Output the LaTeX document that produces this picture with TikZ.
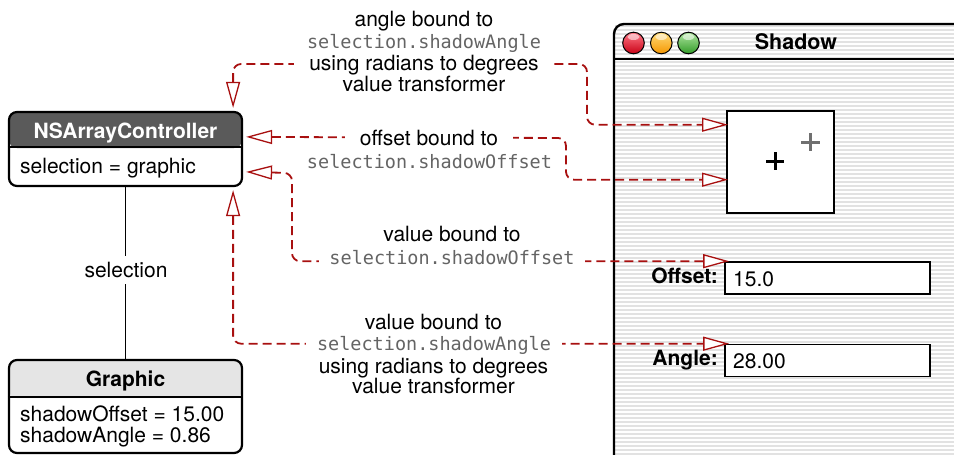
\documentclass[tikz,border=0pt]{standalone}
\usepackage{fontspec}
\setmainfont{TeX Gyre Heros}
\newfontfamily\monof{DejaVu Sans Mono}
\usetikzlibrary{arrows.meta,calc}
\definecolor{conred}{RGB}{168,16,16}
\definecolor{hdrdark}{RGB}{90,90,90}
\definecolor{hdrlight}{RGB}{229,229,229}
\definecolor{stripe}{RGB}{226,226,226}
\definecolor{monogray}{RGB}{100,100,100}
\definecolor{plusgray}{RGB}{112,112,112}
\begin{document}
\begin{tikzpicture}[x=1pt,y=-1pt,
  txt/.style={font=\fontsize{21}{21.3}\selectfont, inner sep=0pt, anchor=base},
  bold/.style={txt, font=\fontsize{21}{21.3}\selectfont\bfseries},
  mono/.style={anchor=base, inner sep=0pt, font=\fontsize{18.5}{20}\selectfont\monof, text=monogray},
  knock/.style={fill=white, inner xsep=13pt, inner ysep=1pt},
  umlbox/.style={draw, line width=2.2pt, rounded corners=8pt, minimum width=233pt, inner sep=0pt, fill=white},
  field/.style={draw, line width=1.6pt, fill=white, minimum width=205pt, minimum height=32pt, inner sep=0pt},
  conn/.style={draw=conred, line width=1.8pt, dash pattern=on 9pt off 5pt, rounded corners=8pt,
    {Triangle[length=26pt,width=14pt,fill=white,line width=1.3pt]}-{Triangle[length=26pt,width=14pt,fill=white,line width=1.3pt]}},
  light/.style={draw=black, line width=1pt}
]
\useasboundingbox (0,0) rectangle (954,455);

% ---------- window ----------
\begin{scope}
  \clip (614,24) rectangle (954,455);
  \foreach \yy in {25,29,...,453} \fill[stripe] (615,\yy) rectangle (954,\yy+2);
\end{scope}
\draw[line width=2.4pt, rounded corners=10pt] (614,458) -- (614,24) -- (958,24);
\draw[line width=2pt] (614,59) -- (958,59);
\shade[light, top color={rgb,255:red,255;green,120;blue,135}, bottom color={rgb,255:red,200;green,0;blue,20}] (633.5,43) circle[radius=10.8];
\shade[light, top color={rgb,255:red,255;green,220;blue,120}, bottom color={rgb,255:red,245;green,150;blue,0}] (661.3,43) circle[radius=10.8];
\shade[light, top color={rgb,255:red,175;green,230;blue,160}, bottom color={rgb,255:red,50;green,155;blue,40}] (688.5,43) circle[radius=10.8];
\foreach \cx in {633.5,661.3,688.5} \fill[white, opacity=0.55] (\cx,37) ellipse[x radius=6, y radius=3];
\node[bold, font=\fontsize{21.5}{22}\selectfont\bfseries] (title) at (796,49.5) {Shadow};

\node[draw, line width=2pt, fill=white, minimum width=107pt, minimum height=102pt, inner sep=0pt] (sq) at (780.5,161.7) {};
\draw[line width=3pt] (766,161) -- (784,161) (775,152) -- (775,170);
\draw[line width=3pt, plusgray] (801,142) -- (820,142) (810.5,133) -- (810.5,151);

\node[field] (offf) at (827.5,278) {};
\node[field] (angf) at (827.5,360.5) {};
\node[txt, anchor=base west] (offv) at (733,286) {15.0};
\node[txt, anchor=base west] (angv) at (733,368) {28.00};
\node[bold, anchor=base east] (offl) at (718,283.5) {Offset:};
\node[bold, anchor=base east] (angl) at (718,365) {Angle:};

% ---------- model boxes ----------
\node[umlbox, minimum height=74pt,
  path picture={\fill[hdrdark] (path picture bounding box.north west) rectangle ([yshift=-36pt]path picture bounding box.north east);}]
  (nsac) at (125.5,149) {};
\draw[line width=2pt] ([yshift=-36pt]nsac.north west) -- ([yshift=-36pt]nsac.north east);
\node[bold, text=white] (nsact) at (125.5,138) {NSArrayController};
\node[txt, anchor=base west] (nsacs) at (20,173) {selection = graphic};

\node[umlbox, minimum height=93pt,
  path picture={\fill[hdrlight] (path picture bounding box.north west) rectangle ([yshift=-38pt]path picture bounding box.north east);}]
  (graphic) at (125.5,406.5) {};
\draw[line width=1.6pt] ([yshift=-38pt]graphic.north west) -- ([yshift=-38pt]graphic.north east);
\node[bold] (grt) at (125.5,386) {Graphic};
\node[txt, anchor=base west] (gr1) at (20,421.5) {shadowOffset = 15.00};
\node[txt, anchor=base west] (gr2) at (20,442) {shadowAngle = 0.86};

\draw[line width=1.8pt] (nsac.south) -- (graphic.north);
\node[txt, anchor=center, fill=white, inner sep=6pt] (sel) at (126,270) {selection};

% ---------- connectors ----------
\draw[conn] ($(nsac.north east)+(-10,-3)$) |- (587,64) |- ($(sq.north west)+(2,15)$);
\draw[conn] ($(nsac.north east)+(3,26)$) -- (566,138) |- ($(sq.north west)+(2,70)$);
\draw[conn] ($(nsac.north east)+(3,61)$) -- (292,173) |- ($(offf.north west)+(5,0)$);
\draw[conn] ($(nsac.south east)+(-10,3)$) |- ($(angf.north west)+(5,0)$);

% ---------- labels ----------
\node[txt] (a1) at (424,27) {angle bound to};
\node[mono] (a2) at (424,48) {selection.shadowAngle};
\node[txt, knock, inner xsep=15pt] (a3) at (424,70) {using radians to degrees};
\node[txt] (a4) at (424,91) {value transformer};

\node[txt, knock, inner xsep=15pt] (b1) at (429,145) {offset bound to};
\node[mono] (b2) at (429.5,168) {selection.shadowOffset};

\node[txt] (c1) at (452,241) {value bound to};
\node[mono, knock, inner xsep=10pt] (c2) at (452,264) {selection.shadowOffset};

\node[txt] (d1) at (433.5,329) {value bound to};
\node[mono, knock, inner xsep=11pt] (d2) at (434,350) {selection.shadowAngle};
\node[txt] (d3) at (433.5,373) {using radians to degrees};
\node[txt] (d4) at (433.5,393) {value transformer};
\end{tikzpicture}
\end{document}
